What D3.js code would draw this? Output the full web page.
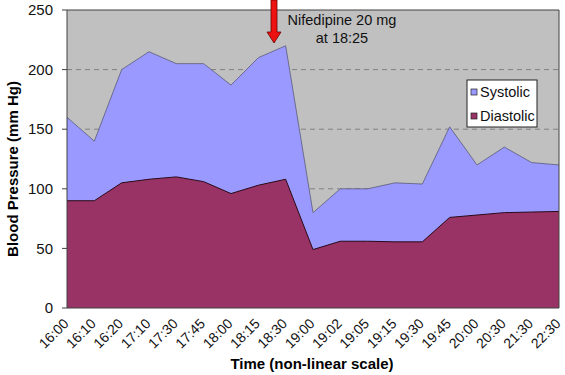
<!DOCTYPE html>
<html><head><meta charset="utf-8">
<script src="https://cdn.jsdelivr.net/npm/d3@7"></script>
<style>body{margin:0;background:#fff}svg{display:block;font-family:"Liberation Sans",Arial,sans-serif}</style>
</head><body><svg id="c" width="565" height="375"></svg>
<script>
const times = ["16:00","16:10","16:20","17:10","17:30","17:45","18:00","18:15","18:30","19:00","19:02","19:05","19:15","19:30","19:45","20:00","20:30","21:30","22:30"];
const systolic = [160,140,200,215,205,205,187,210,220,80,100,100,105,104,152,120,135,122,120];
const diastolic = [90,90,105,108,110,106,96,103,108,49,56,56,55.5,55.5,76,78,80,80.5,81];
const yTicks = [0,50,100,150,200,250];

const svg = d3.select("#c");
const L = 67, R = 559, T = 10, B = 308;
const x = d3.scalePoint().domain(times).range([L, R]);
const y = d3.scaleLinear().domain([0,250]).range([B, T]);

svg.append("rect").attr("x",L).attr("y",T).attr("width",R-L).attr("height",B-T).attr("fill","#c0c0c0");
svg.append("g").selectAll("line").data(yTicks.filter(d=>d>0&&d<250)).join("line")
  .attr("x1",L).attr("x2",R).attr("y1",d=>y(d)).attr("y2",d=>y(d))
  .attr("stroke","#808080").attr("stroke-dasharray","5,4").attr("stroke-width",1);

const area = vals => d3.area().x((d,i)=>x(times[i])).y0(B).y1(d=>y(d))(vals);
const line = vals => d3.line().x((d,i)=>x(times[i])).y(d=>y(d))(vals);
svg.append("path").attr("d",area(systolic)).attr("fill","#9999ff");
svg.append("path").attr("d",line(systolic)).attr("fill","none").attr("stroke","#5a5a7a").attr("stroke-width",0.8);
svg.append("path").attr("d",area(diastolic)).attr("fill","#993366");
svg.append("path").attr("d",line(diastolic)).attr("fill","none").attr("stroke","#2a0a18").attr("stroke-width",1);

// border
svg.append("path").attr("d",`M${L},${T}H${R}V${B}`).attr("fill","none").attr("stroke","#404040").attr("stroke-width",1);
svg.append("line").attr("x1",L).attr("x2",L).attr("y1",T).attr("y2",B).attr("stroke","#404040");
svg.append("line").attr("x1",L).attr("x2",R).attr("y1",B).attr("y2",B).attr("stroke","#404040");

// y axis
const yg = svg.append("g");
yg.selectAll("line").data(yTicks).join("line").attr("x1",L-5).attr("x2",L).attr("y1",d=>y(d)).attr("y2",d=>y(d)).attr("stroke","#404040");
yg.selectAll("text").data(yTicks).join("text").attr("x",53).attr("y",d=>y(d)).attr("dy","0.35em")
  .attr("text-anchor","end").attr("font-size",15).attr("fill","#111").text(d=>d);

// x labels
svg.append("g").selectAll("text").data(times).join("text")
  .attr("transform",d=>`translate(${x(d)-1},${B+13}) rotate(-45)`)
  .attr("text-anchor","end").attr("dy","0.35em").attr("font-size",14).attr("fill","#111").text(d=>d);

// titles
svg.append("text").attr("x",312).attr("y",369).attr("text-anchor","middle").attr("font-size",15).attr("font-weight","bold").text("Time (non-linear scale)");
svg.append("text").attr("transform",`translate(18,169) rotate(-90)`).attr("text-anchor","middle").attr("font-size",15).attr("font-weight","bold").text("Blood Pressure (mm Hg)");

// annotation
const ann = svg.append("text").attr("text-anchor","middle").attr("font-size",14.5).attr("fill","#111");
ann.append("tspan").attr("x",342).attr("y",25).text("Nifedipine 20 mg");
ann.append("tspan").attr("x",342).attr("y",43).text("at 18:25");
const ax = 274;
svg.append("path").attr("d",`M${ax-3},0V32H${ax-7}L${ax},43L${ax+7},32H${ax+3}V0Z`)
  .attr("fill","#ee1111").attr("stroke","#6a0000").attr("stroke-width",0.8);

// legend
const lg = svg.append("g");
lg.append("rect").attr("x",467).attr("y",80).attr("width",70).attr("height",47).attr("fill","#fff").attr("stroke","#222");
const items = [["Systolic","#9999ff"],["Diastolic","#993366"]];
items.forEach((it,i)=>{
  lg.append("rect").attr("x",471).attr("y",89+i*24).attr("width",6).attr("height",6).attr("fill",it[1]).attr("stroke","#222").attr("stroke-width",0.7);
  lg.append("text").attr("x",480).attr("y",92+i*24).attr("dy","0.35em").attr("font-size",14.5).attr("fill","#111").text(it[0]);
});
</script></body></html>
